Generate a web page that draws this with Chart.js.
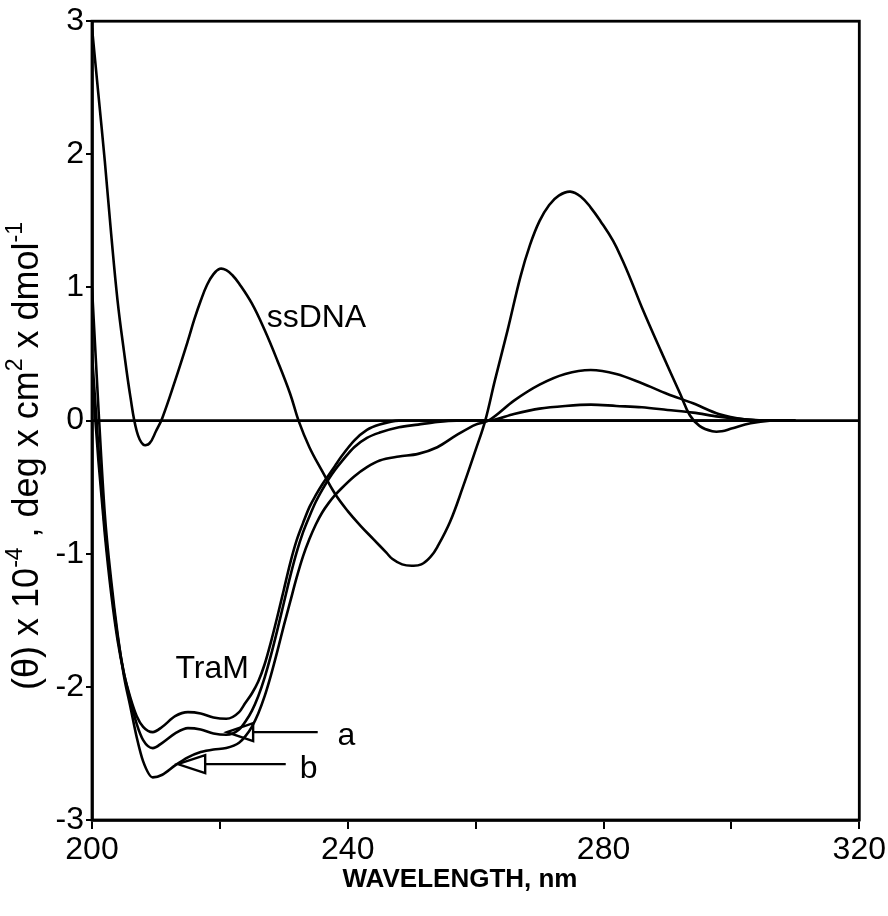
<!DOCTYPE html>
<html>
<head>
<meta charset="utf-8">
<script src="https://cdn.jsdelivr.net/npm/chart.js@4/dist/chart.umd.min.js"></script>
<style>
  html, body { margin: 0; padding: 0; background: #fff; }
</style>
</head>
<body>
<canvas id="cd" width="888" height="916"></canvas>
<script>
const ssNm = [200, 201, 202, 203, 204, 205, 206, 207, 208, 209, 210, 211, 213, 215, 216, 217, 218, 219, 220, 221, 222, 223, 225, 227, 229, 231, 232.3,
  234, 236, 238, 240, 242, 244, 246, 247, 248.5, 250, 251.5, 253, 254, 256, 258, 260, 261.5, 263, 265, 267, 268.5, 270, 271.5, 273, 274.8,
  276.5, 278, 279.5, 281.5, 283, 284.5, 286, 289, 292, 293.5, 295, 297, 298.5, 300, 303, 306, 310];
const ssTheta = [2.95, 2.45, 1.95, 1.4, 0.9, 0.52, 0.18, -0.08, -0.18, -0.17, -0.08, 0.02, 0.3, 0.6, 0.76, 0.9, 1.02, 1.1, 1.14, 1.13, 1.09, 1.03, 0.88, 0.68, 0.45, 0.2, 0,
  -0.2, -0.38, -0.55, -0.68, -0.79, -0.89, -0.99, -1.04, -1.08, -1.09, -1.08, -1.02, -0.95, -0.76, -0.5, -0.22, 0, 0.3, 0.68, 1.08, 1.32, 1.5, 1.62, 1.69, 1.72,
  1.68, 1.6, 1.5, 1.35, 1.2, 1.03, 0.85, 0.52, 0.2, 0.04, -0.04, -0.08, -0.08, -0.06, -0.02, 0, 0];

// shared wavelength grid for the three TraM traces
const tramNm = [200, 201, 202, 203, 204, 205, 206, 207, 208, 209.5, 211, 213, 215, 217, 219, 221, 223, 224, 225, 226, 227, 228, 229, 230,
  231, 232, 233, 234, 235, 236, 237, 238, 239, 241, 243, 245, 248, 251, 254, 257, 260, 262, 266, 270, 274, 278, 282, 286, 290, 294, 298, 302, 306, 310];
const tramTheta = [0.35, -0.3, -0.85, -1.3, -1.65, -1.9, -2.08, -2.22, -2.3, -2.34, -2.3, -2.22, -2.19, -2.2, -2.23, -2.24, -2.19, -2.12, -2.05, -1.96, -1.83, -1.66, -1.47, -1.27,
  -1.07, -0.9, -0.77, -0.65, -0.56, -0.48, -0.41, -0.34, -0.27, -0.15, -0.07, -0.03, 0, 0, 0, 0, 0, 0, 0, 0, 0, 0, 0, 0, 0, 0, 0, 0, 0, 0];
const aTheta = [0.5, -0.2, -0.8, -1.25, -1.62, -1.9, -2.1, -2.28, -2.4, -2.46, -2.42, -2.35, -2.31, -2.32, -2.35, -2.36, -2.32, -2.26, -2.18, -2.07, -1.93, -1.76, -1.57, -1.37,
  -1.17, -0.99, -0.84, -0.72, -0.61, -0.52, -0.44, -0.37, -0.31, -0.2, -0.13, -0.09, -0.05, -0.03, -0.01, 0, 0, 0, 0.05, 0.09, 0.11, 0.12, 0.11, 0.1, 0.08, 0.06, 0.03, 0.01, 0, 0];
const bTheta = [1.0, 0.1, -0.7, -1.2, -1.6, -1.92, -2.15, -2.38, -2.56, -2.68, -2.66, -2.59, -2.53, -2.49, -2.47, -2.46, -2.42, -2.37, -2.3, -2.2, -2.07, -1.91, -1.73, -1.54,
  -1.36, -1.18, -1.02, -0.89, -0.78, -0.69, -0.62, -0.56, -0.51, -0.42, -0.35, -0.3, -0.27, -0.25, -0.2, -0.11, -0.03, 0, 0.15, 0.27, 0.35, 0.38, 0.35, 0.28, 0.2, 0.13, 0.05, 0.01, 0, 0];

const baseNm = [200, 320];
const baseTheta = [0, 0];

const xLabels = [200, 240, 280, 320];

// text labels + arrows, in data units
const notes = [
  { text: "ssDNA", x: 235.1, y: 0.77 },
  { text: "TraM", x: 218.8, y: -1.87 },
  { text: "a", x: 239.8, y: -2.37 },
  { text: "b", x: 233.9, y: -2.62 }
];
const arrows = [
  { tipX: 221.1, y: -2.34, baseX: 225.2, endX: 235.3 },
  { tipX: 213.4, y: -2.58, baseX: 217.7, endX: 230.3 }
];

const FONT = "'Liberation Sans', Arial, Helvetica, sans-serif";
const pts = (xs, ys) => xs.map((x, i) => ({ x, y: ys[i] }));
const line = (label, data, smooth) => ({
  label, data, borderColor: "#000", borderWidth: 2.6, pointRadius: 0, fill: false,
  ...(smooth ? { tension: 0.4 } : { cubicInterpolationMode: "monotone" })
});

const extras = {
  id: "extras",
  afterDraw(chart) {
    const { ctx, chartArea: a, scales: { x, y } } = chart;
    ctx.save();
    // frame
    ctx.strokeStyle = "#000";
    ctx.lineWidth = 2.8;
    ctx.strokeRect(a.left, a.top, a.right - a.left, a.bottom - a.top);

    // curve labels
    ctx.fillStyle = "#000";
    ctx.font = "32px " + FONT;
    ctx.textAlign = "center";
    ctx.textBaseline = "middle";
    notes.forEach(n => ctx.fillText(n.text, x.getPixelForValue(n.x), y.getPixelForValue(n.y)));

    // arrows
    ctx.lineWidth = 2.4;
    arrows.forEach(ar => {
      const py = y.getPixelForValue(ar.y);
      const tx = x.getPixelForValue(ar.tipX);
      const bx = x.getPixelForValue(ar.baseX);
      const ex = x.getPixelForValue(ar.endX);
      ctx.beginPath();
      ctx.moveTo(tx, py);
      ctx.lineTo(bx, py - 9);
      ctx.lineTo(bx, py + 9);
      ctx.closePath();
      ctx.stroke();
      ctx.beginPath();
      ctx.moveTo(bx, py);
      ctx.lineTo(ex, py);
      ctx.stroke();
    });

    // x title
    ctx.font = "bold 26px " + FONT;
    ctx.fillText("WAVELENGTH, nm", 460, 880);

    // y title with superscripts
    const parts = [["(θ) x 10", 0], ["-4", 1], [" , deg x cm", 0], ["2", 1], [" x dmol", 0], ["-1", 1]];
    const big = "36px " + FONT, small = "23px " + FONT;
    let total = 0;
    parts.forEach(([t, s]) => { ctx.font = s ? small : big; total += ctx.measureText(t).width; });
    ctx.translate(28, 456);
    ctx.rotate(-Math.PI / 2);
    ctx.textAlign = "left";
    let cx = -total / 2;
    parts.forEach(([t, s]) => {
      ctx.font = s ? small : big;
      ctx.fillText(t, cx, s ? -12 : 0);
      cx += ctx.measureText(t).width;
    });
    ctx.restore();
  }
};

new Chart(document.getElementById("cd"), {
  type: "line",
  data: {
    datasets: [
      line("zero", pts(baseNm, baseTheta)),
      line("ssDNA", pts(ssNm, ssTheta), true),
      line("TraM", pts(tramNm, tramTheta)),
      line("a", pts(tramNm, aTheta)),
      line("b", pts(tramNm, bTheta))
    ]
  },
  options: {
    responsive: false,
    animation: false,
    layout: { padding: { top: 15, right: 26, left: 0, bottom: 0 } },
    plugins: { legend: { display: false }, tooltip: { enabled: false } },
    scales: {
      x: {
        type: "linear", min: 200, max: 320,
        afterFit: s => { s.height = 96; },
        ticks: {
          stepSize: 20, color: "#000", padding: 2, maxRotation: 0,
          font: { size: 32, family: FONT },
          callback: v => xLabels.includes(v) ? String(v) : ""
        },
        grid: { drawOnChartArea: false, tickLength: 9, color: "#000", lineWidth: 2 },
        border: { color: "#000", width: 2.8 }
      },
      y: {
        min: -3, max: 3,
        afterFit: s => { s.width = 92; },
        ticks: { stepSize: 1, color: "#000", padding: 2, font: { size: 32, family: FONT } },
        grid: { drawOnChartArea: false, tickLength: 6, color: "#000", lineWidth: 2 },
        border: { color: "#000", width: 2.8 }
      }
    }
  },
  plugins: [extras]
});
</script>
</body>
</html>
